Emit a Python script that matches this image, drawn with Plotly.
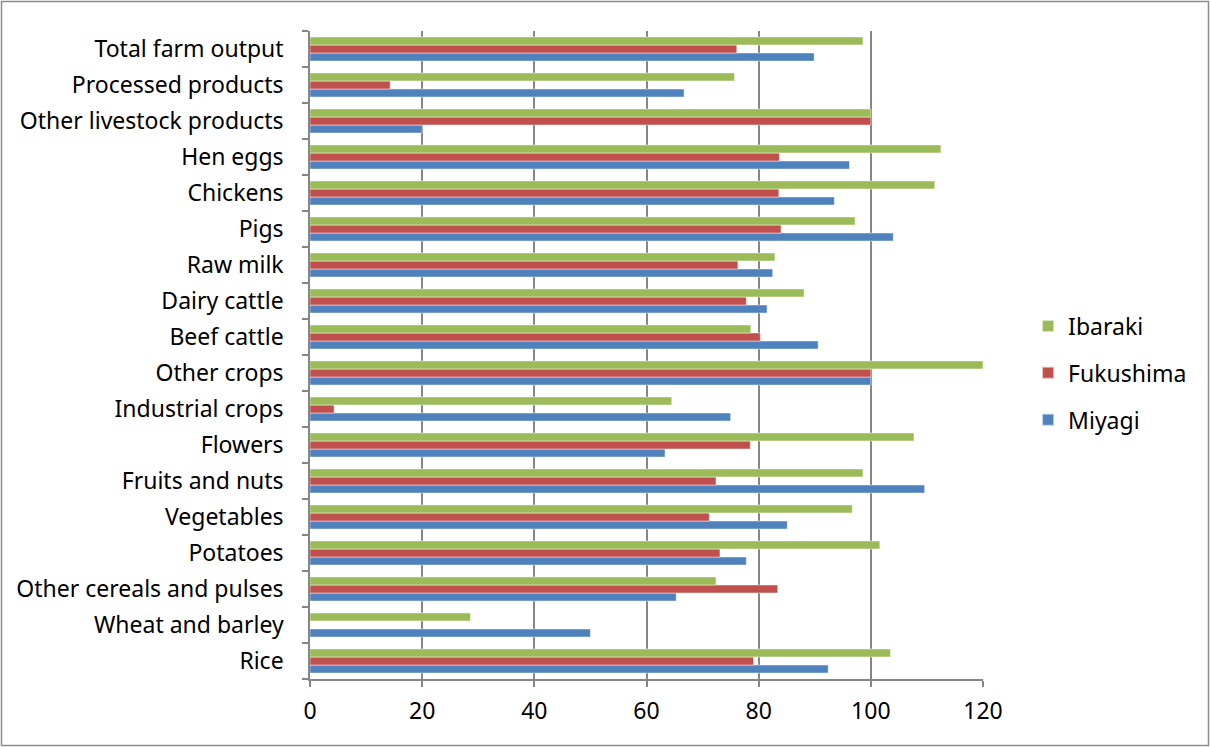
import plotly.graph_objects as go

# Categories listed bottom-to-top as they appear on the vertical axis
categories = [
    "Rice", "Wheat and barley", "Other cereals and pulses", "Potatoes",
    "Vegetables", "Fruits and nuts", "Flowers", "Industrial crops",
    "Other crops", "Beef cattle", "Dairy cattle", "Raw milk", "Pigs",
    "Chickens", "Hen eggs", "Other livestock products",
    "Processed products", "Total farm output",
]

miyagi = [92.4, 50.0, 65.3, 77.8, 85.1, 109.6, 63.3, 75.0, 100.0, 90.6,
          81.5, 82.5, 104.0, 93.5, 96.2, 20.0, 66.7, 89.9]
fukushima = [79.1, None, 83.4, 73.1, 71.2, 72.4, 78.5, 4.3, 100.0, 80.3,
             77.8, 76.3, 84.0, 83.6, 83.7, 100.0, 14.3, 76.1]
ibaraki = [103.5, 28.6, 72.4, 101.6, 96.7, 98.6, 107.7, 64.5, 120.0, 78.6,
           88.1, 82.9, 97.2, 111.4, 112.5, 100.0, 75.7, 98.6]

x_ticks = [0, 20, 40, 60, 80, 100, 120]

# (name, values, colour, legend position)
series = [
    ("Miyagi", miyagi, "#4F81BD", 3),
    ("Fukushima", fukushima, "#C0504D", 2),
    ("Ibaraki", ibaraki, "#9BBB59", 1),
]

FONT = "'Noto Sans', Calibri, sans-serif"

fig = go.Figure()
for name, vals, color, rank in series:
    fig.add_trace(go.Bar(
        y=categories, x=vals, name=name, orientation="h",
        legendgroup=name, legendrank=rank,
        marker=dict(color=color, line=dict(color="rgba(255,255,255,0.6)", width=0.8)),
    ))

fig.update_layout(
    width=1210, height=747,
    margin=dict(l=310, r=227, t=31, b=68),
    paper_bgcolor="white", plot_bgcolor="white",
    barmode="group", bargap=0.33, bargroupgap=0,
    font=dict(family=FONT, size=22, color="#000000"),
    showlegend=True,
    legend=dict(
        traceorder="grouped", x=1.067, y=(679 - 373) / 648,
        xanchor="left", yanchor="middle",
        font=dict(family=FONT, size=23), itemsizing="constant",
        tracegroupgap=14, bgcolor="rgba(0,0,0,0)",
    ),
    xaxis=dict(
        range=[0, 120], tickvals=x_ticks, ticktext=[str(v) for v in x_ticks],
        showgrid=True, gridcolor="#868686", gridwidth=1.5,
        showline=True, linecolor="#868686", linewidth=1.5,
        ticks="outside", ticklen=6, tickcolor="#868686", tickwidth=1.5,
        tickfont=dict(family=FONT, size=23), zeroline=False,
        ticklabelstandoff=5,
    ),
    yaxis=dict(
        type="category", categoryorder="array", categoryarray=categories,
        showline=True, linecolor="#868686", linewidth=1.5,
        ticks="outside", ticklen=6, tickcolor="#868686", tickwidth=1.5,
        tickson="boundaries", showgrid=False,
        tickfont=dict(family=FONT, size=23), ticklabelstandoff=20,
    ),
    shapes=[dict(
        type="rect", xref="paper", yref="paper",
        x0=(1.5 - 310) / 673, x1=(1208.5 - 310) / 673,
        y0=(679 - 745.5) / 648, y1=(679 - 1.5) / 648,
        line=dict(color="#8C8C8C", width=1.5), fillcolor="rgba(0,0,0,0)",
        layer="below",
    )],
)

fig.write_html("out.html")
